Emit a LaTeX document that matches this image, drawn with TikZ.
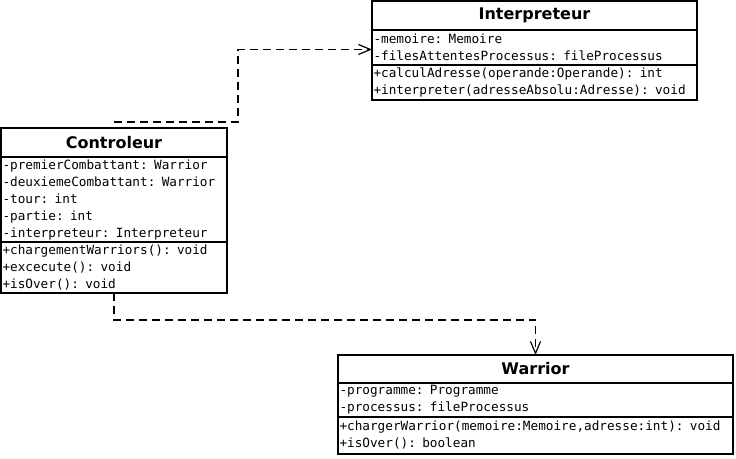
\documentclass[tikz,border=0pt]{standalone}
\usepackage{fontspec}
\setmainfont{DejaVu Sans}
\setmonofont{DejaVu Sans Mono}
\usetikzlibrary{positioning,calc,arrows.meta}

\begin{document}
\begin{tikzpicture}[
        x=1pt, y=1pt,
        % --- STYLE CHUNG ---
        box/.style={
            rectangle,
            draw=black,
            line width=1.5pt,
            outer sep=0pt,
            inner sep=0pt
        },
        % Style tên lớp
        classtitle/.style={
            box,
            font=\bfseries\fontsize{16}{19}\selectfont
        },
        % Style thuộc tính / phương thức
        members/.style={
            box,
            inner xsep=1.5pt,
            align=left,
            font=\ttfamily\fontsize{12.7}{17}\selectfont
        },
        % Style đường phụ thuộc
        dep/.style={
            draw=black,
            line width=1.5pt,
            dash pattern=on 8pt off 5pt,
            -{Straight Barb[length=12pt,width=10pt,line width=1.2pt]}
        }
    ]
    \useasboundingbox (0,0) rectangle (736,458);

    % --- LỚP Controleur ---
    \node[classtitle, minimum width=226pt, minimum height=29pt, anchor=north] (ctrlTitle) at (114,330) {Controleur};
    \node[members, text width=223pt, minimum height=85pt, below=0pt of ctrlTitle] (ctrlAttr) {-premierCombattant: Warrior\\-deuxiemeCombattant: Warrior\\-tour: int\\-partie: int\\-interpreteur: Interpreteur};
    \node[members, text width=223pt, minimum height=51pt, below=0pt of ctrlAttr] (ctrlMeth) {+chargementWarriors(): void\\+excecute(): void\\+isOver(): void};

    % --- LỚP Interpreteur ---
    \node[classtitle, minimum width=325pt, minimum height=29pt, anchor=north] (interTitle) at (534.5,457) {Interpreteur};
    \node[members, text width=322pt, minimum height=35pt, below=0pt of interTitle] (interAttr) {-memoire: Memoire\\-filesAttentesProcessus: fileProcessus};
    \node[members, text width=322pt, minimum height=35pt, below=0pt of interAttr] (interMeth) {+calculAdresse(operande:Operande): int\\+interpreter(adresseAbsolu:Adresse): void};

    % --- LỚP Warrior ---
    \node[classtitle, minimum width=395pt, minimum height=28pt, anchor=north] (warTitle) at (535.5,103) {Warrior};
    \node[members, text width=392pt, minimum height=34pt, below=0pt of warTitle] (warAttr) {-programme: Programme\\-processus: fileProcessus};
    \node[members, text width=392pt, minimum height=37pt, below=0pt of warAttr] (warMeth) {+chargerWarrior(memoire:Memoire,adresse:int): void\\+isOver(): boolean};

    % --- ĐƯỜNG PHỤ THUỘC ---
    \coordinate (ctrlOut) at ([yshift=6pt]ctrlTitle.north);
    \draw[dep] (ctrlOut) -- ++(124,0) |- ([yshift=-2pt]interAttr.west);
    \draw[dep] (ctrlMeth.south) -- ++(0,-27) -| (warTitle.north);

\end{tikzpicture}
\end{document}
